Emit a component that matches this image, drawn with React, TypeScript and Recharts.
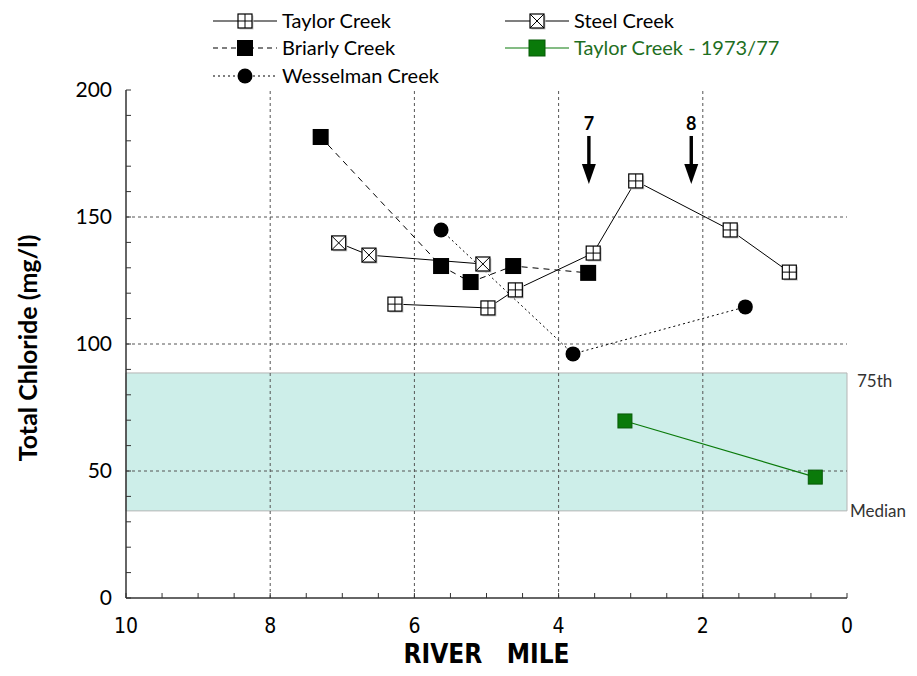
import React from 'react';
import {
  ScatterChart,
  Scatter,
  XAxis,
  YAxis,
  ReferenceLine,
  ReferenceArea,
} from 'recharts';

// river mile / chloride (mg/l)
const taylorMile = [6.27, 4.98, 4.6, 3.52, 2.93, 1.62, 0.8];
const taylorCl = [115.7, 114.2, 121.3, 135.8, 164.2, 144.9, 128.3];

const steelMile = [7.05, 6.63, 5.05];
const steelCl = [139.8, 135.0, 131.5];

const briarlyMile = [7.3, 5.63, 5.22, 4.63, 3.59];
const briarlyCl = [181.5, 130.7, 124.4, 130.7, 128.0];

const wesselMile = [5.63, 3.8, 1.41];
const wesselCl = [144.9, 96.1, 114.6];

const taylorOldMile = [3.08, 0.44];
const taylorOldCl = [69.7, 47.6];

// site arrows 7 and 8
const arrowMile = [3.58, 2.16];
const arrowTip = [163, 163];
const arrowLabels = ['7', '8'];

// percentile band
const band75th = 88.6;
const bandMedian = 34.3;

const xTicks = Array.from({ length: 21 }, (_, i) => i * 0.5);
const yTicks = Array.from({ length: 21 }, (_, i) => i * 10);
const xGrid = [2, 4, 6, 8];
const yGrid = [50, 100, 150];

const FONT = "Lato, 'Open Sans', sans-serif";
const NARROW = "'Liberation Sans Narrow', 'DejaVu Sans Condensed', Lato, sans-serif";
const GREEN = '#0a7a0a';
const GREEN_TEXT = '#1f6f1f';

const toPoints = (xs: number[], ys: number[]) => xs.map((x, i) => ({ x, y: ys[i] }));

function GridSquare({ cx, cy, cross }: { cx: number; cy: number; cross: boolean }) {
  const h = 7;
  return (
    <g>
      <rect x={cx - h + 1.5} y={cy - h + 1.5} width={2 * h} height={2 * h} fill="#c8c8c8" />
      <rect x={cx - h} y={cy - h} width={2 * h} height={2 * h} fill="#fff" stroke="#000" strokeWidth={1.2} />
      {cross ? (
        <>
          <line x1={cx - h} y1={cy - h} x2={cx + h} y2={cy + h} stroke="#000" strokeWidth={1} />
          <line x1={cx - h} y1={cy + h} x2={cx + h} y2={cy - h} stroke="#000" strokeWidth={1} />
        </>
      ) : (
        <>
          <line x1={cx} y1={cy - h} x2={cx} y2={cy + h} stroke="#000" strokeWidth={1} />
          <line x1={cx - h} y1={cy} x2={cx + h} y2={cy} stroke="#000" strokeWidth={1} />
        </>
      )}
    </g>
  );
}

const taylorShape = (p: any) => <GridSquare cx={p.cx} cy={p.cy} cross={false} />;
const steelShape = (p: any) => <GridSquare cx={p.cx} cy={p.cy} cross={true} />;
const blackSquare = (p: any) => (
  <rect x={p.cx - 8} y={p.cy - 8} width={16} height={16} fill="#000" />
);
const blackDot = (p: any) => <circle cx={p.cx} cy={p.cy} r={7.5} fill="#000" />;
const greenSquare = (p: any) => (
  <rect x={p.cx - 7} y={p.cy - 7} width={14} height={14} fill={GREEN} stroke="#075a07" strokeWidth={1} />
);

const arrowShape = (p: any) => {
  const { cx, cy } = p;
  return (
    <g>
      <text x={cx} y={cy - 54} textAnchor="middle" fontFamily={FONT} fontWeight="bold" fontSize={18} fill="#000">
        {p.payload.label}
      </text>
      <rect x={cx - 1.7} y={cy - 48} width={3.4} height={30} fill="#000" />
      <polygon points={`${cx - 7},${cy - 20} ${cx + 7},${cy - 20} ${cx},${cy}`} fill="#000" />
    </g>
  );
};

const xTick = (p: any) => {
  const v = p.payload.value;
  if (v % 2 !== 0) return <g />;
  return (
    <text x={p.x} y={p.y} dy="0.75em" textAnchor="middle" fontFamily={NARROW} fontSize={21} fill="#000">
      {v}
    </text>
  );
};

const yTick = (p: any) => {
  const v = p.payload.value;
  if (v % 50 !== 0) return <g />;
  return (
    <text x={p.x} y={p.y} dy="0.35em" textAnchor="end" fontFamily={FONT} fontSize={21} fill="#000">
      {v}
    </text>
  );
};

const noTick = () => <g />;

type LegendItem = { name: string; col: number; row: number; marker: string; dash?: string; color: string; text: string };
const legendItems: LegendItem[] = [
  { name: 'Taylor Creek', col: 0, row: 0, marker: 'taylor', color: '#000', text: '#000' },
  { name: 'Steel Creek', col: 1, row: 0, marker: 'steel', color: '#000', text: '#000' },
  { name: 'Briarly Creek', col: 0, row: 1, marker: 'square', dash: '5 4', color: '#000', text: '#000' },
  { name: 'Taylor Creek - 1973/77', col: 1, row: 1, marker: 'green', color: GREEN, text: GREEN_TEXT },
  { name: 'Wesselman Creek', col: 0, row: 2, marker: 'dot', dash: '2 3', color: '#000', text: '#000' },
];

function ChartLegend() {
  const colX = [213, 505];
  const rowY = [21, 48, 76];
  return (
    <svg width={917} height={90} style={{ position: 'absolute', left: 0, top: 0 }}>
      {legendItems.map((it) => {
        const x0 = colX[it.col];
        const y = rowY[it.row];
        const mx = x0 + 32;
        let marker: React.ReactNode = null;
        if (it.marker === 'taylor') marker = <GridSquare cx={mx} cy={y} cross={false} />;
        if (it.marker === 'steel') marker = <GridSquare cx={mx} cy={y} cross={true} />;
        if (it.marker === 'square') marker = <rect x={mx - 8} y={y - 8} width={16} height={16} fill="#000" />;
        if (it.marker === 'dot') marker = <circle cx={mx} cy={y} r={7.5} fill="#000" />;
        if (it.marker === 'green')
          marker = <rect x={mx - 8} y={y - 8} width={16} height={16} fill={GREEN} stroke="#075a07" />;
        return (
          <g key={it.name}>
            <line x1={x0} y1={y} x2={x0 + 64} y2={y} stroke={it.color} strokeWidth={1.2} strokeDasharray={it.dash} />
            {marker}
            <text x={x0 + 69} y={y} dy="0.35em" fontFamily={FONT} fontSize={20} fill={it.text}>
              {it.name}
            </text>
          </g>
        );
      })}
    </svg>
  );
}

export default function App() {
  const arrows = arrowMile.map((x, i) => ({ x, y: arrowTip[i], label: arrowLabels[i] }));
  return (
    <div style={{ position: 'relative', width: 917, height: 676, background: '#fff' }}>
      <style>{'body{margin:0}'}</style>
      <ScatterChart width={917} height={676} margin={{ top: 90, right: 70, bottom: 0, left: 6 }}>
        <XAxis
          type="number"
          dataKey="x"
          domain={[0, 10]}
          reversed
          ticks={xTicks}
          interval={0}
          tick={xTick}
          tickSize={-5}
          tickMargin={24}
          height={78}
          axisLine={{ stroke: '#333', strokeWidth: 1.5 }}
          tickLine={{ stroke: '#333' }}
          label={{
            content: ({ viewBox }: any) => (
              <text
                x={viewBox.x + viewBox.width / 2}
                y={viewBox.y + 65}
                textAnchor="middle"
                fontFamily={NARROW}
                fontWeight="bold"
                fontSize={26}
                fill="#000"
              >
                {'RIVER\u00A0\u00A0\u00A0MILE'}
              </text>
            ),
          }}
        />
        <XAxis
          xAxisId="top"
          orientation="top"
          type="number"
          dataKey="x"
          domain={[0, 10]}
          reversed
          ticks={xTicks}
          interval={0}
          tick={noTick}
          tickSize={-5}
          height={0}
          axisLine={{ stroke: '#333', strokeWidth: 1.5 }}
          tickLine={{ stroke: '#333' }}
        />
        <YAxis
          type="number"
          dataKey="y"
          domain={[0, 200]}
          ticks={yTicks}
          interval={0}
          tick={yTick}
          tickSize={-5}
          tickMargin={19}
          width={120}
          axisLine={{ stroke: '#333', strokeWidth: 1.5 }}
          tickLine={{ stroke: '#333' }}
          label={{
            content: ({ viewBox }: any) => {
              const cx = 27;
              const cy = viewBox.y + viewBox.height / 2 + 4;
              return (
                <text
                  x={cx}
                  y={cy}
                  transform={`rotate(-90 ${cx} ${cy})`}
                  textAnchor="middle"
                  dominantBaseline="central"
                  fontFamily={FONT}
                  fontWeight="bold"
                  fontSize={25}
                  fill="#000"
                >
                  Total Chloride (mg/l)
                </text>
              );
            },
          }}
        />
        <YAxis
          yAxisId="right"
          orientation="right"
          type="number"
          dataKey="y"
          domain={[0, 200]}
          ticks={yTicks}
          interval={0}
          tick={noTick}
          tickSize={-5}
          width={0}
          axisLine={{ stroke: '#333', strokeWidth: 1.5 }}
          tickLine={{ stroke: '#333' }}
        />

        <ReferenceArea y1={bandMedian} y2={band75th} fill="#cdeee9" fillOpacity={1} stroke="#b5b5b5" strokeWidth={1} />
        {xGrid.map((v) => (
          <ReferenceLine key={'gx' + v} x={v} stroke="#555" strokeDasharray="3 3" />
        ))}
        {yGrid.map((v) => (
          <ReferenceLine key={'gy' + v} y={v} stroke="#555" strokeDasharray="3 3" />
        ))}
        <ReferenceLine
          y={band75th}
          stroke="none"
          label={{
            content: ({ viewBox }: any) => (
              <text x={viewBox.x + viewBox.width + 10} y={viewBox.y + 14} fontFamily={FONT} fontSize={17} fill="#333">
                75th
              </text>
            ),
          }}
        />
        <ReferenceLine
          y={bandMedian}
          stroke="none"
          label={{
            content: ({ viewBox }: any) => (
              <text x={viewBox.x + viewBox.width + 3} y={viewBox.y + 6} fontFamily={FONT} fontSize={17} fill="#333">
                Median
              </text>
            ),
          }}
        />

        <Scatter
          name="Briarly Creek"
          data={toPoints(briarlyMile, briarlyCl)}
          line={{ stroke: '#000', strokeWidth: 1, strokeDasharray: '6 5' }}
          shape={blackSquare}
          isAnimationActive={false}
        />
        <Scatter
          name="Wesselman Creek"
          data={toPoints(wesselMile, wesselCl)}
          line={{ stroke: '#000', strokeWidth: 1, strokeDasharray: '2 3' }}
          shape={blackDot}
          isAnimationActive={false}
        />
        <Scatter
          name="Steel Creek"
          data={toPoints(steelMile, steelCl)}
          line={{ stroke: '#000', strokeWidth: 1 }}
          shape={steelShape}
          isAnimationActive={false}
        />
        <Scatter
          name="Taylor Creek"
          data={toPoints(taylorMile, taylorCl)}
          line={{ stroke: '#000', strokeWidth: 1 }}
          shape={taylorShape}
          isAnimationActive={false}
        />
        <Scatter
          name="Taylor Creek - 1973/77"
          data={toPoints(taylorOldMile, taylorOldCl)}
          line={{ stroke: GREEN, strokeWidth: 1.2 }}
          shape={greenSquare}
          isAnimationActive={false}
        />
        <Scatter name="sites" data={arrows} shape={arrowShape} isAnimationActive={false} />
      </ScatterChart>
      <ChartLegend />
    </div>
  );
}
